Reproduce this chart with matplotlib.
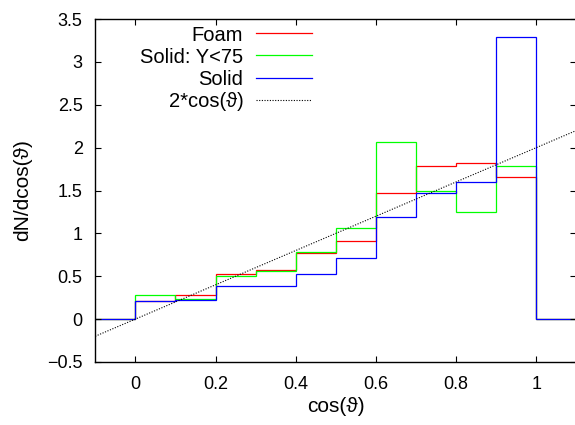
import numpy as np
import matplotlib
matplotlib.use("Agg")
import matplotlib.pyplot as plt

plt.rcParams['font.family'] = ['Liberation Sans', 'DejaVu Sans']
plt.rcParams['font.size'] = 13

# Histogram bin edges in cos(theta); outer bins are empty padding bins
edges = [-0.1, 0.0, 0.1, 0.2, 0.3, 0.4, 0.5, 0.6, 0.7, 0.8, 0.9, 1.0, 1.1]

foam = [0, 0.21, 0.28, 0.53, 0.57, 0.77, 0.91, 1.47, 1.78, 1.82, 1.66, 0]
solid_y75 = [0, 0.28, 0.23, 0.50, 0.56, 0.78, 1.06, 2.06, 1.50, 1.25, 1.78, 0]
solid = [0, 0.21, 0.22, 0.39, 0.385, 0.53, 0.71, 1.19, 1.47, 1.60, 3.29, 0]

series_labels = ["Foam", "Solid: Y<75", "Solid"]
series_colors = ["#ff0000", "#00ff00", "#0000ff"]

x_ticks = [0, 0.2, 0.4, 0.6, 0.8, 1]
x_ticklabels = ["0", "0.2", "0.4", "0.6", "0.8", "1"]
y_ticks = [-0.5, 0, 0.5, 1, 1.5, 2, 2.5, 3, 3.5]
y_ticklabels = ["\u22120.5", "0", "0.5", "1", "1.5", "2", "2.5", "3", "3.5"]

fig = plt.figure(figsize=(5.75, 4.25), dpi=100)
ax = fig.add_axes([95.2 / 575, 63 / 425, 481.2 / 575, 343 / 425])

for vals, lab, col in zip([foam, solid_y75, solid], series_labels, series_colors):
    ax.stairs(vals, edges, baseline=None, color=col, linewidth=0.9, label=lab)

xs = np.array([-0.1, 1.1])
ax.plot(xs, 2 * xs, color="black", linestyle=(0, (1, 1.4)), linewidth=0.8,
        label="2*cos(\u03d1)")

ax.set_xlim(-0.1, 1.1)
ax.set_ylim(-0.5, 3.5)
ax.set_xticks(x_ticks)
ax.set_xticklabels(x_ticklabels)
ax.set_yticks(y_ticks)
ax.set_yticklabels(y_ticklabels)
ax.tick_params(direction="in", length=4.5, width=0.8, top=True, right=True,
               labelsize=13)
ax.tick_params(axis="x", pad=10)
ax.tick_params(axis="y", pad=9)
for sp in ax.spines.values():
    sp.set_linewidth(1.0)

leg = ax.legend(loc="upper right", bbox_to_anchor=(0.450, 0.981),
                markerfirst=False, frameon=False, borderpad=0,
                borderaxespad=0, handlelength=2.75, handletextpad=0.65,
                labelspacing=0.15, fontsize=14.5)

fig.text(335.8 / 575, 1 - 406 / 425, "cos(\u03d1)", ha="center", va="center",
         fontsize=15)
fig.text(22.5 / 575, 1 - 190.5 / 425, "dN/dcos(\u03d1)", ha="center",
         va="center", rotation=90, fontsize=15)

fig.savefig("out.png", dpi=100)
